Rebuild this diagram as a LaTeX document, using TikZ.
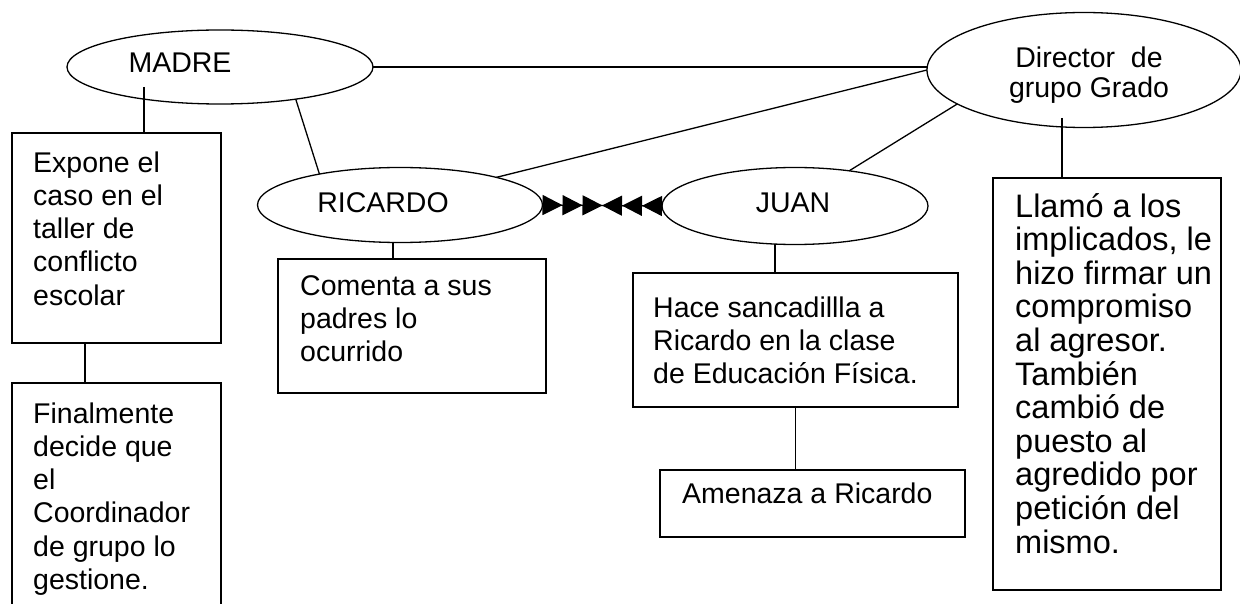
\documentclass[tikz,border=0pt]{standalone}
\usepackage{fontspec}
\setmainfont{Liberation Sans}
\usetikzlibrary{shapes.geometric,arrows.meta}
\tikzset{mytri/.tip={Triangle[reversed, length=20pt, width=20pt, sep=0pt]}}
\begin{document}
\begin{tikzpicture}[x=1pt,y=-1pt,
  every node/.style={font=\fontsize{28.5}{33.3}\selectfont},
  oval/.style={draw, ellipse, line width=1.3pt, inner sep=0pt, outer sep=0pt},
  box/.style={draw, rectangle, line width=1.3pt, inner sep=0pt, outer sep=0pt, anchor=north west},
  txt/.style={inner sep=0pt, anchor=base west, align=left},
  bigtxt/.style={txt, font=\fontsize{32.5}{33.6}\selectfont},
  lbl/.style={inner sep=0pt, anchor=base, align=center},
  conn/.style={line width=1.3pt}]
\useasboundingbox (0,0) rectangle (1240,604);
\clip (0,0) rectangle (1240,604);
\fill[white] (0,0) rectangle (1240,604);

% ellipses
\node[oval, minimum width=306pt, minimum height=74pt] (madre) at (220,67) {};
\node[oval, minimum width=314pt, minimum height=115pt] (dir) at (1084,70) {};
\node[oval, minimum width=285pt, minimum height=75pt] (ric) at (400,205) {};
\node[oval, minimum width=266pt, minimum height=77pt] (juan) at (795,206) {};

% labels (anchor = baseline of the last line)
\node[lbl] (madreL) at (180,73) {MADRE};
\node[lbl] (dirL) at (1089,98) {Director~ de\\[-3.3pt]grupo Grado};
\node[lbl] (ricL) at (383,213) {RICARDO};
\node[lbl] (juanL) at (793,213) {JUAN};

% boxes
\node[box, minimum width=209pt, minimum height=210pt] (b1) at (12,133) {};
\node[box, minimum width=209pt, minimum height=240pt] (b2) at (12,383) {};
\node[box, minimum width=268pt, minimum height=134pt] (com) at (278,259) {};
\node[box, minimum width=325pt, minimum height=134pt] (hace) at (633,273) {};
\node[box, minimum width=305pt, minimum height=67pt] (ame) at (660,470) {};
\node[box, minimum width=228pt, minimum height=412pt] (dbox) at (993,178) {};

\node[txt] (b1t) at (33,305.2) {Expone el\\caso en el\\taller de\\conflicto\\escolar};
\node[txt] (b2t) at (33,589.5) {Finalmente\\decide que\\el\\Coordinador\\de grupo lo\\gestione.};
\node[txt] (comt) at (300,361.6) {Comenta a sus\\padres lo\\ocurrido};
\node[txt] (hacet) at (653,383.6) {Hace sancadillla a\\Ricardo en la clase\\de Educación Física.};
\node[txt] (amet) at (682,503) {Amenaza a Ricardo};
\node[bigtxt] (dboxt) at (1015,553) {Llamó a los\\implicados, le\\hizo firmar un\\compromiso\\al agresor.\\También\\cambió de\\puesto al\\agredido por\\petición del\\mismo.};

% connectors between ellipses
\draw[conn] (madre.east) -- (madre.east -| dir.west);
\draw[conn] (madre.-23) -- (ric.159);
\draw[conn] (ric.16) -- (dir.180);
\draw[conn] (juan.33) -- (dir.195);
\draw[conn, {mytri[] mytri[] mytri[]}-{mytri[] mytri[] mytri[]}] (ric.east) -- (juan.west);

% stems
\coordinate (mS) at (144,87);
\draw[conn] (mS) -- (mS |- b1.north);
\draw[conn] ([xshift=-31.5pt]b1.south) -- ([xshift=-31.5pt]b2.north);
\coordinate (rS) at (393,242);
\draw[conn] (rS) -- (rS |- com.north);
\coordinate (jS) at (775,244);
\draw[conn] (jS) -- (jS |- hace.north);
\draw[conn] (hace.south) -- (hace.south |- ame.north);
\coordinate (dS) at (1062,118);
\draw[conn] (dS) -- (dS |- dbox.north);
\end{tikzpicture}
\end{document}
